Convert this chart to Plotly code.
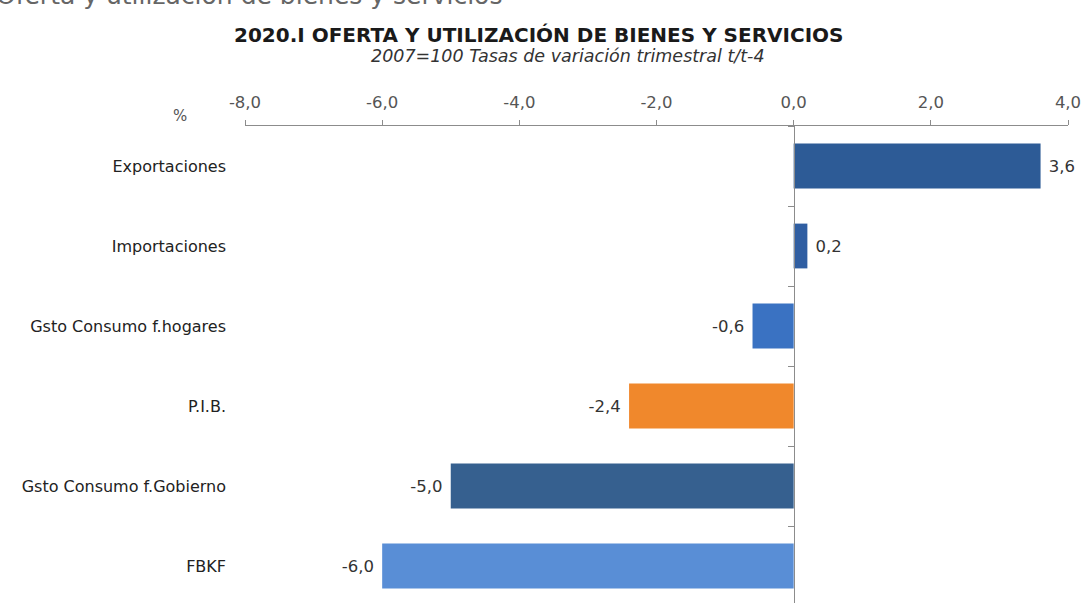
import plotly.graph_objects as go

categories = ["Exportaciones", "Importaciones", "Gsto Consumo f.hogares", "P.I.B.",
              "Gsto Consumo f.Gobierno", "FBKF"]
values = [3.6, 0.2, -0.6, -2.4, -5.0, -6.0]
bar_colors = ["#2D5B96", "#2F5EA2", "#3A72C2", "#F0882C", "#36608F", "#598ED6"]
x_tickvals = [-8, -6, -4, -2, 0, 2, 4]
x_ticktext = ["-8,0", "-6,0", "-4,0", "-2,0", "0,0", "2,0", "4,0"]

title = "2020.I OFERTA Y UTILIZACIÓN DE BIENES Y SERVICIOS"
subtitle = "2007=100 Tasas de variación trimestral t/t-4"
top_text = "Oferta y utilización de bienes y servicios"

labels = [(" " + f"{v:.1f}" if v >= 0 else f"{v:.1f}" + " ").replace(".", ",")
          for v in values]

FONT = "DejaVu Sans, Verdana, sans-serif"
AXIS_COL = "#8c8c8c"

fig = go.Figure()
fig.add_trace(go.Bar(
    y=categories, x=values, orientation="h",
    marker=dict(color=bar_colors, line=dict(width=0)),
    width=0.56,
    text=labels, textposition="outside",
    textfont=dict(family=FONT, size=16.5, color="#333333"),
    cliponaxis=False, hoverinfo="skip", showlegend=False,
))
# invisible companion trace so the zero-positioned category axis is drawn
fig.add_trace(go.Scatter(
    y=categories, x=values, yaxis="y2", mode="markers",
    marker=dict(opacity=0), hoverinfo="skip", showlegend=False,
))

yrange = [5.4625, -0.5]
fig.update_layout(
    width=1083, height=603,
    margin=dict(l=245, r=15, t=126, b=0),
    paper_bgcolor="white", plot_bgcolor="white",
    font=dict(family=FONT, size=15, color="#333333"),
    xaxis=dict(
        range=[-8, 4], side="top", showgrid=False, zeroline=False,
        showline=True, linecolor=AXIS_COL, linewidth=1,
        ticks="outside", ticklen=5, tickcolor=AXIS_COL,
        tickvals=x_tickvals, ticktext=x_ticktext,
        tickfont=dict(family=FONT, size=16.5, color="#555555"),
        ticklabelstandoff=5,
    ),
    yaxis=dict(
        type="category", categoryorder="array", categoryarray=categories,
        range=yrange, showgrid=False, zeroline=False, showline=False,
        ticks="", ticklabelstandoff=18,
        tickfont=dict(family=FONT, size=16, color="#222222"),
    ),
    yaxis2=dict(
        type="category", categoryorder="array", categoryarray=categories,
        range=yrange, overlaying="y", anchor="free", position=8 / 12,
        side="left", showgrid=False, zeroline=False,
        showline=True, linecolor=AXIS_COL, linewidth=1,
        ticks="outside", ticklen=6, tickcolor=AXIS_COL, tickson="boundaries",
        showticklabels=False,
    ),
    bargap=0.44,
)

fig.add_annotation(text=f"<b>{title}</b>", xref="paper", yref="paper",
                   x=(538 - 245) / 823, y=1 + (126 - 35) / 477,
                   xanchor="center", yanchor="middle", showarrow=False,
                   font=dict(family=FONT, size=20, color="#1a1a1a"))
fig.add_annotation(text=f"<i>{subtitle}</i>", xref="paper", yref="paper",
                   x=(568 - 245) / 823, y=1 + (126 - 56) / 477,
                   xanchor="center", yanchor="middle", showarrow=False,
                   font=dict(family=FONT, size=17.5, color="#333333"))
fig.add_annotation(text="%", xref="paper", yref="paper",
                   x=(180 - 245) / 823, y=1 + (126 - 116) / 477,
                   xanchor="center", yanchor="middle", showarrow=False,
                   font=dict(family=FONT, size=15, color="#555555"))
fig.add_annotation(text=top_text, xref="paper", yref="paper",
                   x=(-6 - 245) / 823, y=1 + (126 + 4) / 477,
                   xanchor="left", yanchor="middle", showarrow=False,
                   font=dict(family=FONT, size=25, color="#666666"))

fig.write_html("out.html", config={"displayModeBar": False},
               post_script="document.body.style.margin='0';")
